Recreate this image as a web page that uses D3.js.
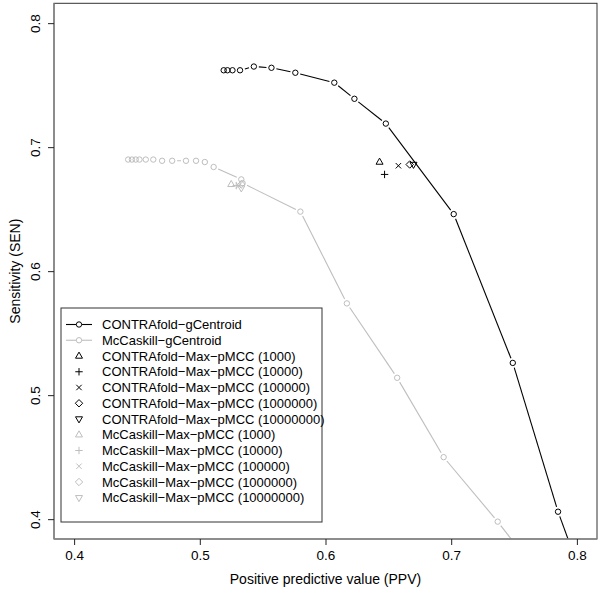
<!DOCTYPE html>
<meta charset="utf-8">
<script src="https://d3js.org/d3.v7.min.js"></script>
<style>
body { margin: 0; background: #fff; }
svg { font-family: 'Liberation Sans', Arial, sans-serif; }
</style>
<svg width="600" height="593"></svg>
<script>
// ---- data ----
var contraPPV = [0.519, 0.522, 0.526, 0.532, 0.543, 0.557, 0.576, 0.607, 0.623, 0.648, 0.702, 0.749, 0.785, 0.798];
var contraSEN = [0.762, 0.762, 0.762, 0.762, 0.765, 0.764, 0.760, 0.752, 0.739, 0.719, 0.646, 0.526, 0.406, 0.370];

var mccPPV = [0.443, 0.446, 0.449, 0.452, 0.457, 0.463, 0.470, 0.478, 0.489, 0.497, 0.504, 0.511, 0.533, 0.534, 0.580, 0.617, 0.657, 0.694, 0.737, 0.773];
var mccSEN = [0.690, 0.690, 0.690, 0.690, 0.690, 0.690, 0.689, 0.689, 0.689, 0.689, 0.688, 0.684, 0.674, 0.671, 0.648, 0.574, 0.514, 0.450, 0.398, 0.351];

var samples = ["1000", "10000", "100000", "1000000", "10000000"];
var contraMaxPPV = [0.643, 0.647, 0.658, 0.667, 0.670];
var contraMaxSEN = [0.688, 0.678, 0.685, 0.686, 0.686];
var mccMaxPPV = [0.525, 0.529, 0.531, 0.533, 0.533];
var mccMaxSEN = [0.670, 0.669, 0.669, 0.670, 0.667];

var xTicks = [0.4, 0.5, 0.6, 0.7, 0.8];
var yTicks = [0.4, 0.5, 0.6, 0.7, 0.8];

var BLACK = "#000", GREY = "#bebebe";

// ---- frame ----
var svg = d3.select("svg"),
    box = {left: 54, right: 597, top: 3.3, bottom: 539};

// R style: 4% extension of the data range on each side
var x = d3.scaleLinear().domain([0.384, 0.816]).range([box.left, box.right]);
var y = d3.scaleLinear().domain([0.384, 0.816]).range([box.bottom, box.top]);

svg.append("clipPath").attr("id", "clip")
  .append("rect")
    .attr("x", box.left).attr("y", box.top)
    .attr("width", box.right - box.left).attr("height", box.bottom - box.top);

var plot = svg.append("g").attr("clip-path", "url(#clip)");

// symbol shapes, like R's pch 1..6
var shapes = {
  tri:   "M0,-3.9L3.5,2.2L-3.5,2.2Z",
  plus:  "M-3.7,0H3.7M0,-3.7V3.7",
  cross: "M-2.7,-2.7L2.7,2.7M-2.7,2.7L2.7,-2.7",
  diam:  "M0,-3.7L3.7,0L0,3.7L-3.7,0Z",
  dtri:  "M0,3.9L3.5,-2.2L-3.5,-2.2Z"
};
var shapeKeys = ["tri", "plus", "cross", "diam", "dtri"];

// lines with gaps round the points (type = "b")
function drawCurve(g, xs, ys, col) {
  var pts = xs.map(function(v, i) { return [x(v), y(ys[i])]; });
  var gap = 5;
  for (var i = 0; i < pts.length - 1; i++) {
    var a = pts[i], b = pts[i + 1];
    var dx = b[0] - a[0], dy = b[1] - a[1], len = Math.sqrt(dx * dx + dy * dy);
    if (len <= 2 * gap) continue;
    var ux = dx / len, uy = dy / len;
    g.append("line")
      .attr("x1", a[0] + ux * gap).attr("y1", a[1] + uy * gap)
      .attr("x2", b[0] - ux * gap).attr("y2", b[1] - uy * gap)
      .attr("stroke", col).attr("stroke-width", 1.1);
  }
  g.selectAll(null).data(pts).enter().append("circle")
    .attr("cx", function(d) { return d[0]; })
    .attr("cy", function(d) { return d[1]; })
    .attr("r", 2.7)
    .attr("fill", "none").attr("stroke", col).attr("stroke-width", 1);
}

drawCurve(plot.append("g"), mccPPV, mccSEN, GREY);
drawCurve(plot.append("g"), contraPPV, contraSEN, BLACK);

function drawMarks(xs, ys, col) {
  plot.append("g").selectAll("path")
    .data(xs.map(function(v, i) { return [v, ys[i], shapeKeys[i]]; }))
    .enter().append("path")
      .attr("transform", function(d) { return "translate(" + x(d[0]) + "," + y(d[1]) + ")"; })
      .attr("d", function(d) { return shapes[d[2]]; })
      .attr("fill", "none").attr("stroke", col).attr("stroke-width", 1);
}
drawMarks(mccMaxPPV, mccMaxSEN, GREY);
drawMarks(contraMaxPPV, contraMaxSEN, BLACK);

// box
svg.append("rect")
  .attr("x", box.left).attr("y", box.top)
  .attr("width", box.right - box.left).attr("height", box.bottom - box.top)
  .attr("fill", "none").attr("stroke", "#333").attr("stroke-width", 1);

// axes
var xAxis = svg.append("g")
  .attr("transform", "translate(0," + box.bottom + ")")
  .call(d3.axisBottom(x).tickValues(xTicks).tickSize(6).tickPadding(5).tickFormat(d3.format(".1f")));
var yAxis = svg.append("g")
  .attr("transform", "translate(" + box.left + ",0)")
  .call(d3.axisLeft(y).tickValues(yTicks).tickSize(6).tickPadding(5).tickFormat(d3.format(".1f")));

[xAxis, yAxis].forEach(function(a) {
  a.select(".domain").attr("stroke", "#8a8a8a").attr("stroke-width", 1.6);
  a.selectAll(".tick line").attr("stroke", "#222");
  a.selectAll(".tick text").attr("font-size", 13.5).attr("fill", "#000")
    .attr("font-family", "'Liberation Sans', Arial, sans-serif");
});
xAxis.select(".domain").attr("d", "M" + box.left + ",0H" + box.right);
yAxis.select(".domain").attr("d", "M0," + box.top + "V" + box.bottom);

// rotated y tick labels
yAxis.selectAll(".tick text")
  .attr("text-anchor", "middle")
  .attr("x", 0).attr("dy", 0)
  .attr("transform", "translate(-14,0) rotate(-90)");

svg.append("text")
  .attr("x", (box.left + box.right) / 2).attr("y", 584)
  .attr("text-anchor", "middle").attr("font-size", 14)
  .text("Positive predictive value (PPV)");

svg.append("text")
  .attr("transform", "translate(20," + (box.top + box.bottom) / 2 + ") rotate(-90)")
  .attr("text-anchor", "middle").attr("font-size", 14)
  .text("Sensitivity (SEN)");

// legend
var entries = [
  {label: "CONTRAfold\u2212gCentroid", col: BLACK, line: true},
  {label: "McCaskill\u2212gCentroid", col: GREY, line: true}
];
samples.forEach(function(s, i) {
  entries.push({label: "CONTRAfold\u2212Max\u2212pMCC (" + s + ")", col: BLACK, shape: shapeKeys[i]});
});
samples.forEach(function(s, i) {
  entries.push({label: "McCaskill\u2212Max\u2212pMCC (" + s + ")", col: GREY, shape: shapeKeys[i]});
});

var lg = {x: 61, y: 308, w: 261, h: 214, first: 324.5, step: 15.75, sym: 79, text: 102};
svg.append("rect")
  .attr("x", lg.x).attr("y", lg.y).attr("width", lg.w).attr("height", lg.h)
  .attr("fill", "#fff").attr("stroke", "#333").attr("stroke-width", 1);

var item = svg.append("g").selectAll("g")
  .data(entries)
  .enter().append("g")
    .attr("transform", function(d, i) { return "translate(0," + (lg.first + i * lg.step) + ")"; });

item.filter(function(d) { return d.line; }).each(function(d) {
  var g = d3.select(this);
  g.append("line").attr("x1", lg.sym - 13).attr("x2", lg.sym - 2.7)
    .attr("stroke", d.col).attr("stroke-width", 1.1);
  g.append("line").attr("x1", lg.sym + 2.7).attr("x2", lg.sym + 13)
    .attr("stroke", d.col).attr("stroke-width", 1.1);
  g.append("circle").attr("cx", lg.sym).attr("r", 2.7)
    .attr("fill", "none").attr("stroke", d.col);
});
item.filter(function(d) { return d.shape; }).append("path")
  .attr("transform", "translate(" + lg.sym + ",0)")
  .attr("d", function(d) { return shapes[d.shape]; })
  .attr("fill", "none").attr("stroke", function(d) { return d.col; });

item.append("text")
  .attr("x", lg.text).attr("dy", "0.36em")
  .attr("font-size", 13)
  .text(function(d) { return d.label; });
</script>
